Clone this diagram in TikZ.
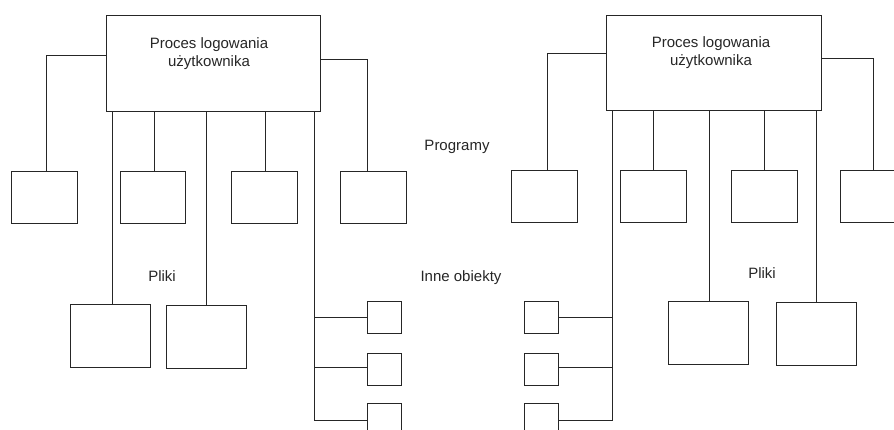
\documentclass[tikz,border=0pt]{standalone}
\usepackage{fontspec}
\setmainfont{Liberation Sans}
\begin{document}
\begin{tikzpicture}[x=1pt,y=-1pt,
  ink/.style={black!85},
  box/.style={draw=black!85, line width=1pt, rectangle, inner sep=0pt, anchor=north west},
  wire/.style={draw=black!85, line width=1pt},
  txt/.style={text=black!85, font=\fontsize{15}{18}\selectfont, align=center, inner sep=0pt}]
\useasboundingbox (0,0) rectangle (894,430);
\clip (0,0) rectangle (894,430);

% ---------- left tree ----------
\node[box, minimum width=214pt, minimum height=96pt] (L) at (106,15) {};
\node[txt] (Lt) at (209,54) {Proces logowania\\użytkownika};

\node[box, minimum width=66pt, minimum height=52pt] (la) at (11,171) {};
\node[box, minimum width=65pt, minimum height=52pt] (lb) at (120,171) {};
\node[box, minimum width=66pt, minimum height=52pt] (lc) at (231,171) {};
\node[box, minimum width=66pt, minimum height=52pt] (ld) at (340,171) {};

\node[box, minimum width=80pt, minimum height=63pt] (lp1) at (70,304) {};
\node[box, minimum width=80pt, minimum height=63pt] (lp2) at (166,305) {};

\node[box, minimum width=34pt, minimum height=32pt] (lsa) at (367,301) {};
\node[box, minimum width=34pt, minimum height=32pt] (lsb) at (367,353) {};
\node[box, minimum width=34pt, minimum height=32pt] (lsc) at (367,403) {};

\node[txt] (lpl) at (162,276) {Pliki};

\draw[wire] ([yshift=8pt]L.west) -| ([xshift=2pt]la.north);
\draw[wire] ([yshift=4pt]L.east) -| ([xshift=-6pt]ld.north);
\draw[wire] ([xshift=1pt]lb.north) -- ([xshift=1pt]lb.north |- L.south);
\draw[wire] ([xshift=1pt]lc.north) -- ([xshift=1pt]lc.north |- L.south);
\draw[wire] ([xshift=2pt]lp1.north) -- ([xshift=2pt]lp1.north |- L.south);
\draw[wire] (lp2.north) -- (lp2.north |- L.south);
\coordinate (ltr) at ([xshift=-7pt]L.south east);
\draw[wire] (ltr) |- ([yshift=-1pt]lsc.west);
\draw[wire] (lsa.west) -- (lsa.west -| ltr);
\draw[wire] ([yshift=2pt]lsb.west) -- ([yshift=2pt]lsb.west -| ltr);

% ---------- middle labels ----------
\node[txt] (prog) at (457,147) {Programy};
\node[txt] (inne) at (461,278) {Inne obiekty};

% ---------- right tree ----------
\node[box, minimum width=215pt, minimum height=95pt] (R) at (606,15) {};
\node[txt] (Rt) at (711,53) {Proces logowania\\użytkownika};

\node[box, minimum width=66pt, minimum height=52pt] (ra) at (511,170) {};
\node[box, minimum width=66pt, minimum height=52pt] (rb) at (620,170) {};
\node[box, minimum width=66pt, minimum height=52pt] (rc) at (731,170) {};
\node[box, minimum width=66pt, minimum height=52pt] (rd) at (840,170) {};

\node[box, minimum width=80pt, minimum height=63pt] (rp1) at (668,301) {};
\node[box, minimum width=80pt, minimum height=63pt] (rp2) at (776,302) {};

\node[box, minimum width=34pt, minimum height=32pt] (rsa) at (524,301) {};
\node[box, minimum width=34pt, minimum height=32pt] (rsb) at (524,353) {};
\node[box, minimum width=34pt, minimum height=32pt] (rsc) at (524,403) {};

\node[txt] (rpl) at (762,273) {Pliki};

\draw[wire] ([yshift=9pt]R.west) -| ([xshift=3pt]ra.north);
\draw[wire] ([yshift=4.5pt]R.east) -| ([xshift=0pt]rd.north);
\draw[wire] (rb.north) -- (rb.north |- R.south);
\draw[wire] (rc.north) -- (rc.north |- R.south);
\draw[wire] ([xshift=1pt]rp1.north) -- ([xshift=1pt]rp1.north |- R.south);
\draw[wire] (rp2.north) -- (rp2.north |- R.south);
\coordinate (rtr) at ([xshift=6pt]R.south west);
\draw[wire] (rtr) |- ([yshift=-1pt]rsc.east);
\draw[wire] (rsa.east) -- (rsa.east -| rtr);
\draw[wire] ([yshift=2pt]rsb.east) -- ([yshift=2pt]rsb.east -| rtr);
\end{tikzpicture}
\end{document}
